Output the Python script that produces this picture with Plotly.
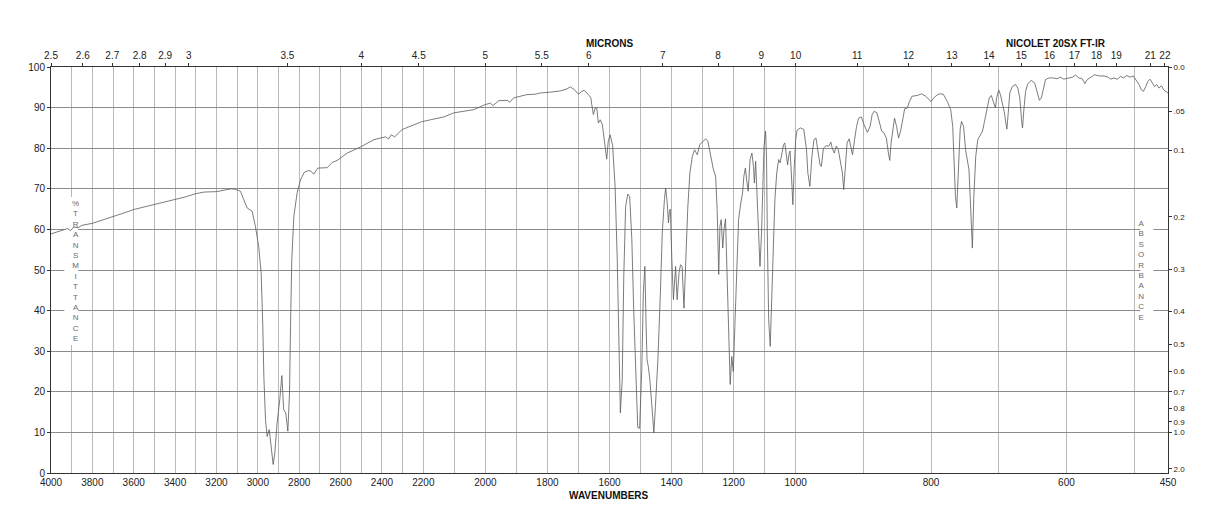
import plotly.graph_objects as go

# ---------------- data ----------------
wavenumber = [
    4000, 3950, 3920, 3905, 3890, 3870, 3850, 3800, 3750, 3700, 3650, 3600, 3550, 3500,
    3450, 3400, 3350, 3300, 3260, 3200, 3160, 3130, 3110, 3084, 3068, 3052, 3028, 3012,
    2996, 2984, 2976, 2971, 2963, 2955, 2945, 2936, 2926, 2918, 2907, 2894, 2884, 2875,
    2865, 2855, 2847, 2842, 2836, 2826, 2810, 2794, 2775, 2754, 2742, 2730, 2710, 2665,
    2640, 2616, 2568, 2504, 2439, 2383, 2367, 2355, 2339, 2302, 2229, 2209, 2177, 2134,
    2102, 2037, 2002, 1984, 1975, 1957, 1928, 1922, 1909, 1866, 1839, 1823, 1791, 1759,
    1737, 1726, 1713, 1700, 1691, 1682, 1668, 1660, 1657, 1652, 1646, 1641, 1636, 1630,
    1623, 1614, 1609, 1604, 1598, 1590, 1582, 1575, 1570, 1565, 1559, 1554, 1548, 1541,
    1535, 1528, 1522, 1515, 1509, 1503, 1496, 1491, 1486, 1482, 1479, 1475, 1470, 1464,
    1457, 1452, 1444, 1436, 1430, 1423, 1419, 1414, 1410, 1407, 1404, 1399, 1394, 1387,
    1382, 1376, 1371, 1366, 1360, 1354, 1348, 1341, 1333, 1326, 1317, 1309, 1298, 1290,
    1283, 1274, 1265, 1258, 1253, 1248, 1244, 1240, 1235, 1231, 1226, 1223, 1218, 1214,
    1211, 1206, 1201, 1196, 1190, 1184, 1177, 1171, 1167, 1162, 1158, 1153, 1147, 1141,
    1136, 1133, 1129, 1123, 1119, 1115, 1110, 1106, 1102, 1097, 1094, 1091, 1087, 1082,
    1078, 1073, 1067, 1061, 1055, 1050, 1045, 1039, 1035, 1030, 1026, 1021, 1018, 1014,
    1009, 1005, 1000, 998, 993, 988, 984, 982, 979, 976, 973, 970, 967, 964,
    962, 959, 955, 951, 948, 946, 943, 940, 937, 934, 931, 929, 926, 924,
    921, 918, 916, 913, 910, 907, 903, 899, 894, 890, 887, 884, 880, 876,
    873, 870, 866, 863, 861, 859, 856, 854, 851, 848, 845, 842, 839, 835,
    832, 828, 820, 814, 808, 800, 795, 788, 782, 776, 771, 768, 766, 764,
    762, 760, 757, 755, 752, 749, 747, 744, 742, 740, 739, 737, 734, 731,
    727, 724, 721, 717, 714, 711, 708, 705, 703, 700, 697.5, 694.5, 691.6, 689.6,
    688, 686, 683.7, 680, 675.3, 671.8, 668.9, 666.4, 664.9, 662.9, 660.4, 657, 652, 647,
    643, 640, 637, 634, 631, 626, 619, 614, 609, 604, 598, 591, 586.6, 581.7,
    576.8, 572.8, 569.3, 564.4, 558.4, 552, 544.6, 538.7, 534.7, 529.8, 524.9, 520, 516, 511,
    506.2, 501.3, 496.3, 492.9, 489.4, 486.4, 483, 479.6, 476.6, 473.1, 469.7, 466.7, 463.3, 459.8,
    455.9, 450,
]
transmittance = [
    58.9, 59.6, 60.2, 59.7, 60.6, 60.4, 61.0, 61.5, 62.3, 63.2, 64.0, 64.9, 65.5, 66.1,
    66.7, 67.3, 68.0, 68.8, 69.2, 69.3, 69.6, 70.0, 69.9, 69.4, 67.3, 65.3, 64.5, 60.8,
    55.8, 49.3, 36.1, 23.8, 13.1, 9.0, 10.7, 6.6, 2.1, 4.9, 12.3, 18.1, 24.0, 15.6,
    14.8, 10.3, 19.7, 36.1, 52.5, 63.2, 69.0, 72.2, 74.1, 74.5, 74.3, 73.6, 75.1, 75.2,
    76.5, 77.0, 78.8, 80.3, 82.1, 82.8, 82.3, 83.3, 82.8, 84.6, 86.2, 86.5, 87.0, 87.7,
    88.7, 89.5, 90.7, 91.1, 90.5, 91.7, 91.8, 91.3, 92.4, 93.2, 93.3, 93.6, 93.8, 94.1,
    94.6, 95.1, 94.4, 93.3, 93.9, 94.3, 93.2, 92.4, 90.7, 88.3, 89.9, 89.9, 86.2, 87.0,
    85.8, 80.5, 77.3, 81.7, 83.3, 80.7, 70.6, 52.5, 32.0, 14.8, 23.0, 48.4, 65.7, 68.7,
    68.1, 57.5, 40.2, 21.3, 11.2, 11.0, 25.5, 44.3, 50.9, 36.1, 27.9, 26.3, 23.0, 17.2,
    9.9, 16.4, 27.9, 44.3, 59.1, 67.3, 70.2, 66.5, 61.6, 64.4, 65.0, 52.5, 42.7, 50.9,
    42.7, 49.3, 51.3, 50.9, 40.6, 52.5, 64.9, 73.9, 78.0, 79.6, 78.4, 80.9, 81.7, 82.3,
    81.7, 78.0, 74.7, 73.1, 64.9, 48.9, 60.8, 62.4, 55.4, 59.9, 62.6, 54.2, 37.8, 26.3,
    21.8, 28.7, 25.0, 36.1, 50.9, 62.4, 66.5, 69.0, 73.1, 75.1, 72.2, 69.4, 77.2, 78.8,
    75.5, 71.4, 76.8, 66.5, 55.8, 50.9, 59.1, 69.0, 80.5, 84.2, 78.0, 56.7, 37.8, 31.2,
    41.1, 52.5, 67.3, 73.9, 77.2, 76.4, 78.8, 80.9, 81.3, 78.8, 75.9, 78.8, 79.3, 73.9,
    66.1, 74.7, 82.1, 84.4, 85.0, 84.6, 79.6, 73.9, 70.6, 78.0, 82.1, 82.5, 79.6, 75.9,
    75.5, 80.0, 80.6, 80.5, 81.5, 80.0, 78.8, 80.5, 79.6, 77.2, 73.9, 69.8, 76.4, 81.3,
    82.3, 79.6, 78.4, 82.1, 85.4, 87.4, 87.7, 85.8, 83.9, 85.4, 88.3, 89.1, 88.7, 86.2,
    84.2, 83.9, 82.5, 78.8, 77.0, 81.3, 85.4, 87.4, 85.4, 82.5, 84.2, 87.4, 89.7, 89.9,
    91.5, 92.8, 93.0, 93.4, 92.8, 91.5, 92.6, 93.4, 93.3, 91.5, 89.5, 85.4, 77.2, 68.1,
    65.3, 74.7, 84.6, 86.6, 85.4, 79.6, 77.2, 74.7, 67.3, 59.1, 55.4, 67.3, 78.0, 82.1,
    83.3, 84.2, 86.6, 90.3, 92.4, 93.0, 91.5, 89.9, 92.5, 94.3, 93.2, 91.1, 88.7, 86.2,
    84.7, 88.7, 93.6, 95.2, 95.7, 94.8, 92.4, 87.0, 85.0, 89.5, 94.0, 95.9, 96.7, 96.1,
    93.6, 91.8, 92.4, 94.4, 96.9, 97.3, 97.3, 97.1, 97.5, 97.0, 97.3, 97.5, 98.0, 97.3,
    97.1, 95.9, 96.9, 97.5, 98.1, 97.8, 97.8, 97.5, 97.0, 97.3, 97.0, 97.7, 97.3, 97.9,
    97.5, 97.8, 96.5, 95.7, 94.4, 94.0, 95.1, 96.5, 97.0, 96.1, 95.2, 95.7, 94.8, 95.4,
    94.3, 93.6,
]

bottom_ticks = [4000, 3800, 3600, 3400, 3200, 3000, 2800, 2600, 2400, 2200, 2000,
                1800, 1600, 1400, 1200, 1000, 800, 600, 450]
grid_wavenumbers = list(range(3900, 400, -100))
micron_ticks = [2.5, 2.6, 2.7, 2.8, 2.9, 3, 3.5, 4, 4.5, 5, 5.5, 6, 7, 8, 9, 10,
                11, 12, 13, 14, 15, 16, 17, 18, 19, 21, 22]
percent_ticks = [0, 10, 20, 30, 40, 50, 60, 70, 80, 90, 100]
absorbance_ticks = [0.0, 0.05, 0.1, 0.2, 0.3, 0.4, 0.5, 0.6, 0.7, 0.8, 0.9, 1.0, 2.0]
absorbance_labels = ["0.0", ".05", "0.1", "0.2", "0.3", "0.4", "0.5", "0.6", "0.7",
                     "0.8", "0.9", "1.0", "2.0"]


# piecewise-linear wavenumber scale of the chart paper (three equal panels)
def pos(w):
    if w >= 2200:
        return (4000 - w) / 1800
    if w >= 1000:
        return 1 + (2200 - w) / 1200
    return 2 + (1000 - w) / 550


FONT = "Liberation Sans, Arial, Helvetica, sans-serif"
INK = "#222"

xvals = [pos(w) for w in wavenumber]

fig = go.Figure()


def white_box(x0, x1, y0, y1):
    # plain white background behind an axis caption (sits above grid, below the spectrum)
    fig.add_trace(go.Scatter(x=[x0, x1, x1, x0, x0], y=[y0, y0, y1, y1, y0],
                             mode="lines", fill="toself", fillcolor="white",
                             line=dict(width=0, color="white"), hoverinfo="skip",
                             showlegend=False))


white_box(0.036, 0.073, 31.5, 68.0)
white_box(2.9256, 2.9605, 37.0, 63.0)

fig.add_trace(go.Scatter(x=xvals, y=transmittance, mode="lines",
                         line=dict(color="#5a5a5a", width=0.8),
                         hoverinfo="skip", showlegend=False))

# x grid / labels
xt_vals = []
xt_text = []
for w in sorted(set(grid_wavenumbers + bottom_ticks), reverse=True):
    xt_vals.append(pos(w))
    xt_text.append(str(w) if w in bottom_ticks else "")

fig.update_layout(
    width=1218, height=528,
    margin=dict(l=51, r=50, t=67, b=55),
    paper_bgcolor="white", plot_bgcolor="white",
    font=dict(family=FONT, size=10, color=INK),
    showlegend=False,
    xaxis=dict(range=[0, 3], tickmode="array", tickvals=xt_vals, ticktext=xt_text,
               showgrid=True, gridcolor="#b9b9b9", gridwidth=1,
               showline=True, linecolor="#333", linewidth=1, mirror=False,
               ticks="", zeroline=False, tickfont=dict(size=10, color=INK)),
    xaxis2=dict(range=[0, 3], overlaying="x", side="top", anchor="y",
                tickmode="array",
                tickvals=[pos(10000 / m) for m in micron_ticks],
                ticktext=[("%g" % m) for m in micron_ticks],
                showgrid=False, showline=True, linecolor="#333", linewidth=1,
                ticks="outside", ticklen=3, tickcolor="#333",
                zeroline=False, tickfont=dict(size=10, color=INK)),
    yaxis=dict(range=[0, 100], tickmode="array", tickvals=percent_ticks,
               showgrid=True, gridcolor="#8c8c8c", gridwidth=1,
               showline=True, linecolor="#333", linewidth=1,
               ticks="outside", ticklen=3, tickcolor="#333",
               zeroline=False, tickfont=dict(size=10, color=INK)),
    yaxis2=dict(range=[0, 100], overlaying="y", side="right", anchor="x",
                tickmode="array",
                tickvals=[100 * 10 ** (-a) for a in absorbance_ticks],
                ticktext=absorbance_labels,
                showgrid=False, showline=True, linecolor="#333", linewidth=1,
                ticks="outside", ticklen=3, tickcolor="#333",
                zeroline=False, tickfont=dict(size=8, color=INK)),
)

# invisible anchor trace so the secondary axes are drawn
fig.add_trace(go.Scatter(x=[xvals[0]], y=[transmittance[0]], xaxis="x2", yaxis="y2",
                         mode="markers", marker=dict(opacity=0), hoverinfo="skip",
                         showlegend=False))

annotations = [
    dict(text="<b>MICRONS</b>", x=0.5003, y=1.057, xref="paper", yref="paper",
         yanchor="middle", showarrow=False, font=dict(size=10, color="#111")),
    dict(text="<b>NICOLET 20SX FT-IR</b>", x=0.946, y=1.057, xref="paper", yref="paper",
         yanchor="middle", showarrow=False, font=dict(size=10, color="#111")),
    dict(text="<b>WAVENUMBERS</b>", x=0.4995, y=-0.056, xref="paper", yref="paper",
         yanchor="middle", showarrow=False, font=dict(size=10, color="#111")),
    dict(text="<br>".join(list("%TRANSMITTANCE")), x=0.0173, y=49.7, xref="paper", yref="y",
         yanchor="middle", showarrow=False, font=dict(size=8, color="#6a6a6a"),
         align="center"),
    dict(text="<br>".join(list("ABSORBANCE")), x=0.980, y=50.0, xref="paper", yref="y",
         yanchor="middle", showarrow=False, font=dict(size=8, color="#6a6a6a"),
         align="center"),
]
fig.update_layout(annotations=annotations)

fig.write_html("out.html")
